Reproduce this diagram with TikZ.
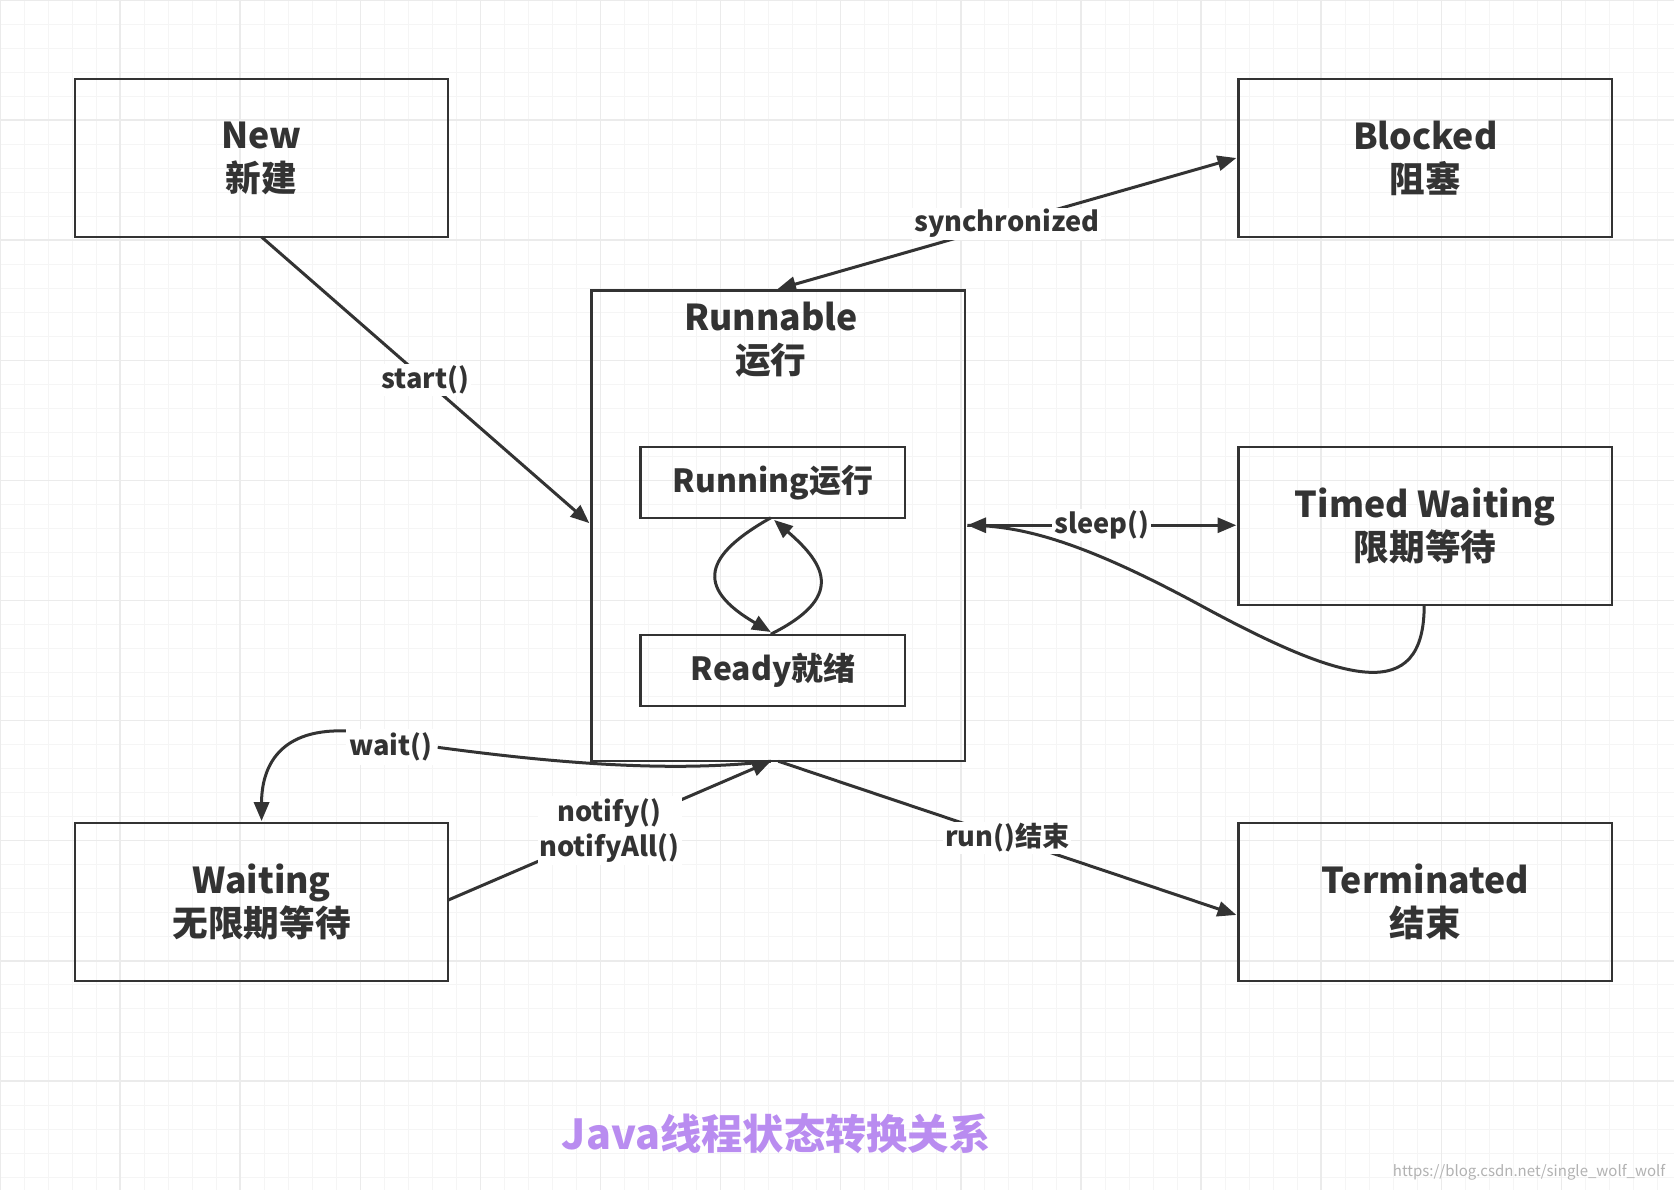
\documentclass[tikz,border=0pt]{standalone}
\usepackage{fontspec}
\setmainfont{Noto Sans CJK SC}
\usetikzlibrary{arrows.meta}
\definecolor{linec}{HTML}{333333}
\definecolor{titlec}{HTML}{B98CF0}
\begin{document}
\begin{tikzpicture}[x=0.02cm,y=-0.02cm]
\tikzstyle{state} = [draw=linec, line width=1.2pt, minimum width=7cm, minimum height=2.96cm, align=center, font=\fontsize{19}{23}\selectfont\bfseries, text=linec]
\tikzstyle{inner} = [draw=linec, line width=1.2pt, minimum width=4.96cm, minimum height=1.32cm, font=\fontsize{17}{20}\selectfont\bfseries, text=linec]
\tikzstyle{lbl} = [fill=white, inner sep=1pt, align=center, font=\fontsize{14.5}{19}\selectfont\bfseries, text=linec]
\tikzstyle{conn} = [draw=linec, line width=1.6pt, -{Triangle[length=10pt,width=8pt]}]
\useasboundingbox (0,0) rectangle (1568,1115);
\fill[white] (0,0) rectangle (1568,1115);
\foreach \i in {0,...,70} {
  \draw[gray!8, line width=0.5pt] (\i*22.5,0) -- (\i*22.5,1115);
  \draw[gray!8, line width=0.5pt] (0,\i*22.5) -- (1568,\i*22.5);
}
\foreach \i in {0,...,14} {
  \draw[gray!16, line width=0.8pt] (\i*112.5,0) -- (\i*112.5,1115);
  \draw[gray!16, line width=0.8pt] (0,\i*112.5) -- (1568,\i*112.5);
}

\node[state] (new) at (245,148) {New\\新建};
\node[state] (blocked) at (1335,148) {Blocked\\阻塞};
\node[state, minimum height=8.82cm] (run) at (729,492.5) {};
\node[align=center, font=\fontsize{19}{23}\selectfont\bfseries, text=linec] (runlbl) at (722,318) {Runnable\\运行};
\node[inner] (running) at (724,452) {Running运行};
\node[inner] (ready) at (724,628) {Ready就绪};
\node[state] (timed) at (1335,493) {Timed Waiting\\限期等待};
\node[state] (waiting) at (245,845) {Waiting\\无限期等待};
\node[state] (term) at (1335,845) {Terminated\\结束};

\coordinate (rtop) at (728,271);
\coordinate (rleft) at (552,490);
\coordinate (rright) at (906,492);
\coordinate (rbot) at (722,713);
\coordinate (bleft) at (1158,148);
\coordinate (tleft) at (1158,492);
\coordinate (tbot) at (1334,567);
\coordinate (wtop) at (245,769);
\coordinate (wright) at (420,843);
\coordinate (tmleft) at (1158,857);

\draw[conn] (245,222) -- (rleft) node[lbl, pos=0.5] (startlbl) {start()};
\draw[conn, {Triangle[length=10pt,width=8pt]}-{Triangle[length=10pt,width=8pt]}] (rtop) -- (bleft) node[lbl, pos=0.5] (synclbl) {synchronized};
\draw[conn, {Triangle[length=10pt,width=8pt]}-{Triangle[length=10pt,width=8pt]}] (rright) -- (tleft) node[lbl, pos=0.5] (sleeplbl) {sleep()};
\draw[conn, -] (tbot) .. controls (1334,660) and (1260,640) .. (1130,570) .. controls (1020,510) and (960,492) .. (rright);
\draw[conn] (rbot) .. controls (620,725) and (500,712) .. (410,700) node[lbl, anchor=east, inner sep=2pt] (waitlbl) {wait()} (330,685) .. controls (260,680) and (245,720) .. (wtop);
\draw[conn] (wright) -- (rbot) node[lbl, pos=0.5] (notifylbl) {notify()\\notifyAll()};
\draw[conn] (729,713) -- (tmleft) node[lbl, pos=0.5] (endlbl) {run()结束};
\draw[conn] (722,485) .. controls (660,520) and (650,550) .. (722,592);
\draw[conn] (722,594) .. controls (790,560) and (775,530) .. (725,487);

\node[text=titlec, font=\fontsize{22}{26}\selectfont\bfseries] (title) at (727,1062) {Java线程状态转换关系};
\node[text=gray!60, font=\fontsize{8}{10}\selectfont, anchor=east] (mark) at (1566,1098) {https://blog.csdn.net/single\_wolf\_wolf};
\end{tikzpicture}
\end{document}
